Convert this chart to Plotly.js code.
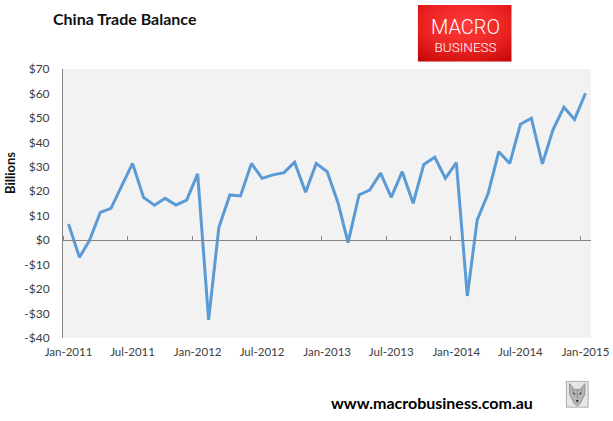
<!DOCTYPE html>
<html><head><meta charset="utf-8">
<script src="https://cdn.plot.ly/plotly-3.0.1.min.js"></script>
<style>html,body{margin:0;padding:0;background:#fff}#chart{width:613px;height:421px}</style>
</head><body><div id="chart"></div>
<script>
// China monthly trade balance, US$ billions, Jan-2011 .. Jan-2015
const startYear = 2011;
const balance = [
  6.6, -7.0, -0.2, 11.4, 13.0, 22.3, 31.4, 17.5, 14.3, 17.1, 14.4, 16.4,
  27.1, -32.6, 5.3, 18.5, 18.1, 31.4, 25.3, 26.7, 27.6, 31.9, 19.6, 31.4,
  28.0, 15.1, -1.0, 18.5, 20.5, 27.4, 17.5, 28.0, 15.1, 31.0, 33.9, 25.3,
  31.7, -22.8, 8.3, 19.2, 36.2, 31.4, 47.4, 49.9, 31.2, 45.1, 54.4, 49.4,
  60.1
];
const tickLabels = ['Jan-2011','Jul-2011','Jan-2012','Jul-2012','Jan-2013','Jul-2013','Jan-2014','Jul-2014','Jan-2015'];
const yTickVals = [-40,-30,-20,-10,0,10,20,30,40,50,60,70];
const yTickText = ['-$40','-$30','-$20','-$10','$0','$10','$20','$30','$40','$50','$60','$70'];

const pad = n => String(n).padStart(2,'0');
const months = balance.map((v,i) => (startYear + Math.floor(i/12)) + '-' + pad(i%12+1) + '-01');
const monNum = {Jan:1,Feb:2,Mar:3,Apr:4,May:5,Jun:6,Jul:7,Aug:8,Sep:9,Oct:10,Nov:11,Dec:12};
const labelDates = tickLabels.map(s => { const [m,y] = s.split('-'); return y + '-' + pad(monNum[m]) + '-01'; });
// category boundaries (half a month before each labelled month)
const boundaryDates = tickLabels.map(s => { const [m,y] = s.split('-'); let mm = monNum[m]-1, yy = +y; if (mm===0){mm=12;yy--;} return yy + '-' + pad(mm) + '-16 12:00'; });
const xRange = ['2010-12-16 12:00', '2015-01-16 12:00'];

const lineTrace = {x: months, y: balance, type:'scatter', mode:'lines',
  line:{color:'#5b9bd5', width:3}, hoverinfo:'x+y', showlegend:false};
const ghost = {x: months, y: balance, type:'scatter', mode:'lines', xaxis:'x2', yaxis:'y',
  line:{color:'rgba(0,0,0,0)', width:0}, opacity:0, hoverinfo:'skip', showlegend:false};

const logoSvg = "<svg xmlns='http://www.w3.org/2000/svg' width='94' height='57'><defs><radialGradient id='g' cx='0.5' cy='0.35' r='0.8'><stop offset='0' stop-color='#ff3b3b'/><stop offset='0.55' stop-color='#ec2323'/><stop offset='1' stop-color='#c40606'/></radialGradient></defs><rect width='94' height='57' fill='url(#g)'/></svg>";
const wolfSvg = "<svg xmlns='http://www.w3.org/2000/svg' width='24' height='28'><rect x='0.5' y='0.5' width='23' height='27' fill='#e6e6e6' stroke='#9a9a9a'/><polygon points='4,3 9,9 15,9 20,3 20,14 15,24 12,26 9,24 4,14' fill='#b5b5b5' stroke='#6e6e6e' stroke-width='0.6'/><polygon points='7,12 10,13 9,15' fill='#444'/><polygon points='17,12 14,13 15,15' fill='#444'/><polygon points='10.5,20 13.5,20 12,23' fill='#333'/><path d='M6,8 L9,13 M18,8 L15,13 M12,10 L12,19' stroke='#7a7a7a' stroke-width='0.6'/></svg>";
const uri = s => 'data:image/svg+xml;charset=utf-8,' + encodeURIComponent(s);

const layout = {
  width:613, height:421,
  margin:{l:63, r:22, t:69, b:83, pad:0},
  paper_bgcolor:'#ffffff', plot_bgcolor:'#f2f2f2',
  font:{family:'Lato, "Open Sans", sans-serif', color:'#404040'},
  xaxis:{type:'date', range:xRange, tickmode:'array', tickvals:labelDates, ticktext:tickLabels,
    ticks:'', showline:false, showgrid:false, zeroline:false, ticklabelstandoff:5,
    tickfont:{family:'Lato, sans-serif', size:11.5, color:'#404040'}, fixedrange:true},
  xaxis2:{type:'date', range:xRange, overlaying:'x', anchor:'free', position:40/110, side:'top',
    tickmode:'array', tickvals:boundaryDates, ticks:'outside', ticklen:4, tickwidth:1, tickcolor:'#868686',
    showticklabels:false, showline:true, linecolor:'#868686', linewidth:1, showgrid:false, zeroline:false},
  yaxis:{range:[-40,70], tickmode:'array', tickvals:yTickVals, ticktext:yTickText,
    ticks:'', showline:true, linecolor:'#868686', linewidth:1, showgrid:false, zeroline:false,
    ticklabelstandoff:10, tickfont:{family:'Lato, sans-serif', size:12, color:'#404040'}, fixedrange:true},
  images:[
    {source:uri(logoSvg), xref:'paper', yref:'paper', x:0.6718, y:1.2379, sizex:0.178, sizey:0.2108,
     sizing:'stretch', xanchor:'left', yanchor:'top', layer:'above'},
    {source:uri(wolfSvg), xref:'paper', yref:'paper', x:0.9521, y:-0.1587, sizex:0.0436, sizey:0.1004,
     sizing:'stretch', xanchor:'left', yanchor:'top', layer:'above'}
  ],
  annotations:[
    {text:'<b>China Trade Balance</b>', xref:'paper', yref:'paper', x:-0.0233, y:1.1859,
     xanchor:'left', yanchor:'middle', showarrow:false, font:{family:'Lato, sans-serif', size:16, color:'#111'}},
    {text:'<b>Billions</b>', xref:'paper', yref:'paper', x:-0.1004, y:0.6134, textangle:-90,
     xanchor:'center', yanchor:'middle', showarrow:false, font:{family:'Lato, sans-serif', size:13, color:'#111'}},
    {text:'<span style="font-size:20px">MACRO</span><br>BUSINESS', xref:'paper', yref:'paper', x:0.7614, y:1.1264,
     xanchor:'center', yanchor:'middle', align:'center',
     showarrow:false, font:{family:'Roboto, sans-serif', size:13.5, color:'#ffffff', weight:300}},
    {text:'<b>www.macrobusiness.com.au</b>', xref:'paper', yref:'paper', x:0.6983, y:-0.2416,
     xanchor:'center', yanchor:'middle', showarrow:false, font:{family:'Lato, sans-serif', size:16, color:'#000'}}
  ]
};

Plotly.newPlot('chart', [lineTrace, ghost], layout, {displayModeBar:false, staticPlot:true});
</script>
</body></html>
